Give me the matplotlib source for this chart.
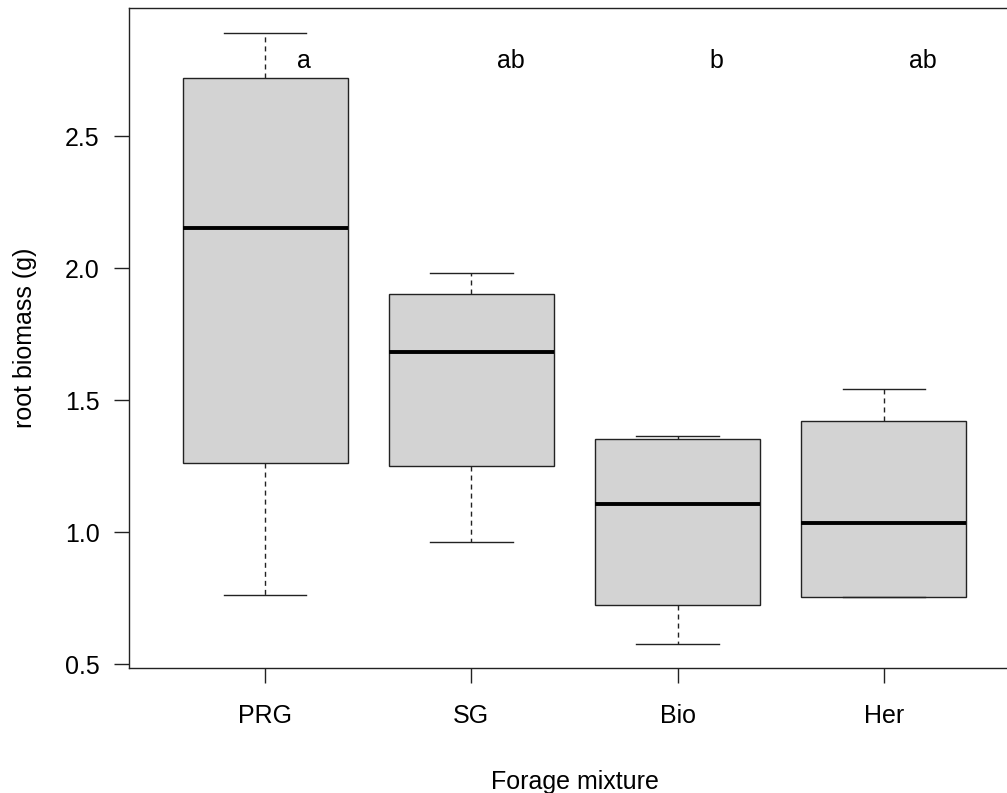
import matplotlib
matplotlib.use('Agg')
import matplotlib.pyplot as plt

plt.rcParams['font.family'] = ['Liberation Sans', 'DejaVu Sans']

# Box statistics
groups = ['PRG', 'SG', 'Bio', 'Her']
whisk_lo = [0.761, 0.962, 0.576, 0.754]
q1 = [1.261, 1.250, 0.723, 0.754]
medians = [2.152, 1.682, 1.106, 1.034]
q3 = [2.720, 1.902, 1.352, 1.420]
whisk_hi = [2.890, 1.981, 1.364, 1.542]
letters = ['a', 'ab', 'b', 'ab']
letter_y = 2.785

stats = []
for i, g in enumerate(groups):
    stats.append({'label': g, 'whislo': whisk_lo[i], 'q1': q1[i],
                  'med': medians[i], 'q3': q3[i], 'whishi': whisk_hi[i],
                  'fliers': []})

fig = plt.figure(figsize=(10.07, 7.93), dpi=100)
ax = fig.add_axes([0.128, 0.1576, 0.885, 0.8323])

positions = list(range(1, len(groups) + 1))
ax.bxp(stats, positions=positions, widths=0.8, patch_artist=True,
       showfliers=False,
       boxprops=dict(facecolor='#D3D3D3', edgecolor='#222222', linewidth=1.0),
       medianprops=dict(color='black', linewidth=2.8,
                        solid_capstyle='butt'),
       whiskerprops=dict(color='#222222', linewidth=1.0,
                         linestyle=(0, (3.6, 2.9))),
       capprops=dict(color='#222222', linewidth=1.0),
       capwidths=0.4)

for p, lab in zip(positions, letters):
    ax.text(p + 0.19, letter_y, lab, ha='center', va='center', fontsize=18)

ax.set_xlim(0.34, 4.66)
ax.set_ylim(0.485, 2.985)
ax.set_yticks([0.5, 1.0, 1.5, 2.0, 2.5])
ax.set_yticklabels(['0.5', '1.0', '1.5', '2.0', '2.5'])
ax.set_xticks(positions)
ax.set_xticklabels(groups)
ax.tick_params(axis='both', length=11, width=1.0, color='#222222',
               labelsize=18)
ax.tick_params(axis='x', pad=15)
ax.tick_params(axis='y', pad=10)
for s in ax.spines.values():
    s.set_linewidth(1.0)
    s.set_color('#222222')

ax.set_xlabel('Forage mixture', fontsize=18, labelpad=30)
ax.set_ylabel('root biomass (g)', fontsize=18, labelpad=20)

fig.savefig('out.png', dpi=100)
